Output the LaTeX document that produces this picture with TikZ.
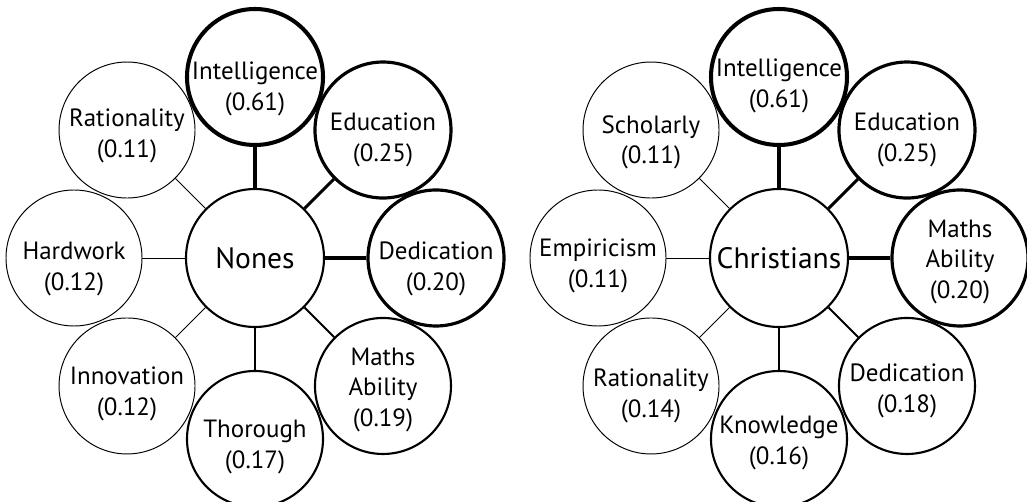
\documentclass[tikz,border=0pt]{standalone}
\usepackage{fontspec}
\setmainfont{PT Sans}
\usetikzlibrary{calc}

\tikzset{
  hub/.style={circle, draw, line width=1.2pt, minimum size=2.76cm, inner sep=0pt,
    font=\fontsize{16.8}{18}\selectfont},
  trait/.style={circle, draw, minimum size=2.72cm, inner sep=0pt},
  traittext/.style={align=center, inner sep=0pt, font=\fontsize{14.2}{17.2}\selectfont},
  % tie strength: thin .. heavy
  w1/.style={line width=0.55pt},
  w2/.style={line width=1.2pt},
  w3/.style={line width=1.8pt},
  w4/.style={line width=2.3pt},
}

\begin{document}
\begin{tikzpicture}
\useasboundingbox (0,0) rectangle (20.54,10.04);

% ---- nones ----
\node[hub] (nones) at (5.10,4.88) {Nones};
\foreach \i/\ang/\lbl/\w/\dy in {
    1/90/{Intelligence\\(0.61)}/w4/0.24,
    2/45/{Education\\(0.25)}/w3/0.20,
    3/0/{Dedication\\(0.20)}/w3/0.22,
    4/-45/{Maths\\Ability\\(0.19)}/w2/0.08,
    5/-90/{Thorough\\(0.17)}/w2/0.16,
    6/-135/{Innovation\\(0.12)}/w1/0.16,
    7/180/{Hardwork\\(0.12)}/w1/0.22,
    8/135/{Rationality\\(0.11)}/w1/0.12}{
  \node[trait, \w] (nones-\i) at ($(nones)+(\ang:3.62)$) {};
  \node[traittext] (nones-\i-txt) at ([yshift=-\dy cm]nones-\i) {\lbl};
  \draw[\w] (nones) -- (nones-\i);
}

% ---- christians ----
\node[hub] (chr) at (15.58,4.88) {Christians};
\foreach \i/\ang/\lbl/\w/\dy in {
    1/90/{Intelligence\\(0.61)}/w4/0.18,
    2/45/{Education\\(0.25)}/w3/0.20,
    3/0/{Maths\\Ability\\(0.20)}/w3/0.08,
    4/-45/{Dedication\\(0.18)}/w2/0.10,
    5/-90/{Knowledge\\(0.16)}/w2/0.08,
    6/-135/{Rationality\\(0.14)}/w1/0.20,
    7/180/{Empiricism\\(0.11)}/w1/0.16,
    8/135/{Scholarly\\(0.11)}/w1/0.24}{
  \node[trait, \w] (chr-\i) at ($(chr)+(\ang:3.62)$) {};
  \node[traittext] (chr-\i-txt) at ([yshift=-\dy cm]chr-\i) {\lbl};
  \draw[\w] (chr) -- (chr-\i);
}
\end{tikzpicture}
\end{document}
